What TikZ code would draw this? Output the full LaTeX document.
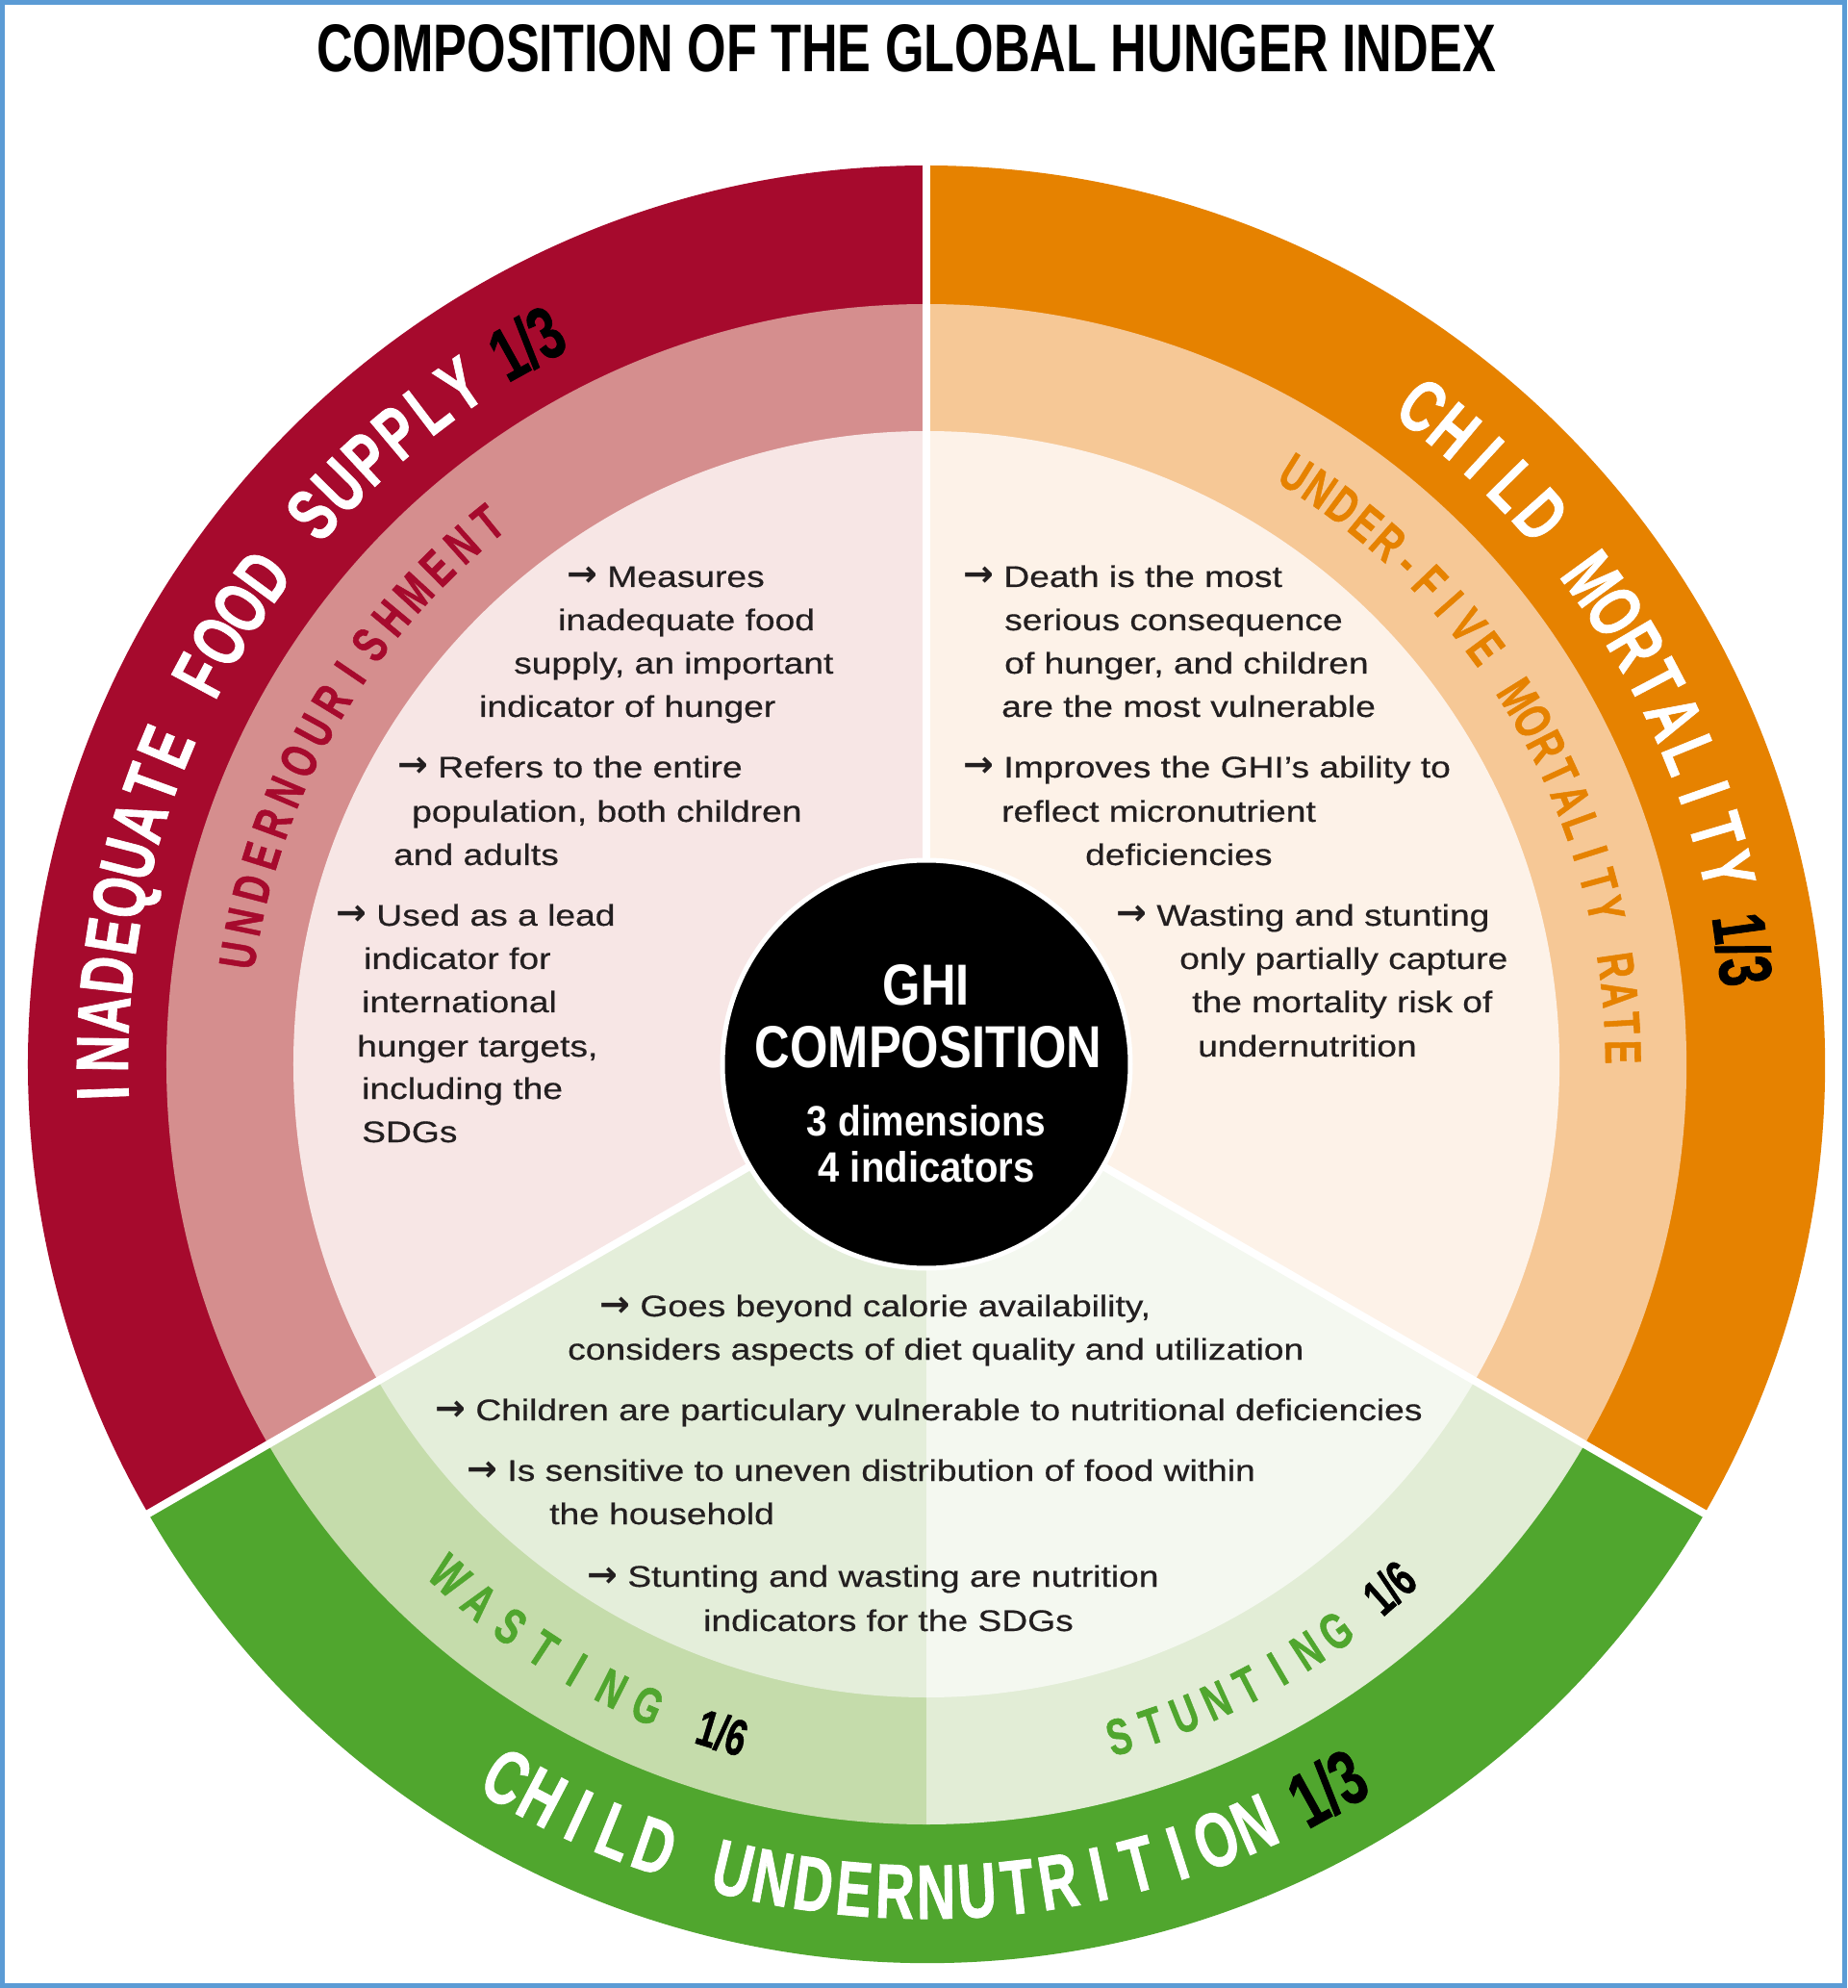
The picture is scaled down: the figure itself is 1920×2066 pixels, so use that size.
\documentclass[tikz,border=0pt]{standalone}
\usepackage{fontspec}
\usepackage{graphicx}
\setmainfont{Liberation Sans}
\newfontfamily\capfont{Liberation Sans}[FakeStretch=0.62]
\newfontfamily\arcfont{Liberation Sans}[FakeBold=1.2]
\newfontfamily\bodyfont{Liberation Sans}[FakeStretch=1.2,FakeBold=0.5]
\newfontfamily\arrfont{DejaVu Sans}
\definecolor{redA}{RGB}{166,10,45}
\definecolor{redB}{RGB}{213,142,142}
\definecolor{redC}{RGB}{247,230,229}
\definecolor{orA}{RGB}{230,130,0}
\definecolor{orB}{RGB}{246,200,150}
\definecolor{orC}{RGB}{253,242,232}
\definecolor{grA}{RGB}{80,166,46}
\definecolor{grBa}{RGB}{197,220,171}
\definecolor{grBb}{RGB}{226,237,214}
\definecolor{grCa}{RGB}{228,238,218}
\definecolor{grCb}{RGB}{244,248,240}
\definecolor{frameblue}{RGB}{91,155,213}
\definecolor{bodytext}{RGB}{35,31,32}
\newcommand\arr{{\arrfont\bfseries\fontsize{38}{31}\selectfont →}\ }
\newcommand\nI{\kern-0.09em I\kern-0.09em}
\newdimen\ctW \newdimen\ctP \newcount\ctN
% #1 radius, #2 start angle, #3 end angle, #4 font and colour, #5 characters
\newcommand\arctext[5]{%
  \global\ctW=0pt \global\ctN=0
  \foreach \ctc in {#5}{\setbox0=\hbox{#4\scalebox{0.7}[1]{\ctc}}\global\advance\ctW by\wd0 \global\advance\ctN by 1 }%
  \pgfmathsetmacro\ctsgn{(#3>#2)?1:-1}%
  \pgfmathsetmacro\cttrk{(abs(#3-#2)*pi/180*#1 - \the\ctW)/(\the\ctN-1)}%
  \global\ctP=0pt
  \foreach \ctc in {#5}{%
    \setbox0=\hbox{#4\scalebox{0.7}[1]{\ctc}}\edef\ctcw{\the\wd0}%
    \pgfmathsetmacro\ctang{#2+\ctsgn*(\the\ctP+\ctcw/2)/(#1)*180/pi}%
    \pgfmathsetmacro\ctrot{\ctang+\ctsgn*90}%
    \node[inner sep=0pt,anchor=base,rotate=\ctrot] at (\ctang:#1pt) {#4\scalebox{0.7}[1]{\ctc}};
    \global\advance\ctP by \ctcw\relax
    \global\advance\ctP by \cttrk pt\relax
  }%
}
\tikzset{
  body/.style={anchor=base west, inner sep=0pt, text=bodytext,
    font=\bodyfont\fontsize{31}{31}\selectfont},
  sep/.style={draw=white, line width=8pt}
}
\begin{document}
\begin{tikzpicture}[x=1pt,y=1pt]
\useasboundingbox (-963,-960) rectangle (957,1106);
\fill[white] (-963,-960) rectangle (957,1106);
\draw[frameblue, line width=5pt] (-960.5,-957.5) rectangle (954.5,1103.5);
% title
\node[anchor=base, inner sep=0pt] (title) at (-21,1031)
  {\resizebox{1225pt}{49pt}{\capfont\bfseries COMPOSITION OF THE GLOBAL HUNGER INDEX}};
% sectors
\def\Ro{934pt}\def\Rm{790pt}\def\Ri{658pt}
\fill[redA] (0,0) -- (90:\Ro) arc[start angle=90,end angle=210,radius=\Ro] -- cycle;
\fill[redB] (0,0) -- (90:\Rm) arc[start angle=90,end angle=210,radius=\Rm] -- cycle;
\fill[redC] (0,0) -- (90:\Ri) arc[start angle=90,end angle=210,radius=\Ri] -- cycle;
\fill[orA] (0,0) -- (-30:\Ro) arc[start angle=-30,end angle=90,radius=\Ro] -- cycle;
\fill[orB] (0,0) -- (-30:\Rm) arc[start angle=-30,end angle=90,radius=\Rm] -- cycle;
\fill[orC] (0,0) -- (-30:\Ri) arc[start angle=-30,end angle=90,radius=\Ri] -- cycle;
\fill[grA] (0,0) -- (210:\Ro) arc[start angle=210,end angle=330,radius=\Ro] -- cycle;
\fill[grBa] (0,0) -- (210:\Rm) arc[start angle=210,end angle=270,radius=\Rm] -- cycle;
\fill[grBb] (0,0) -- (270:\Rm) arc[start angle=270,end angle=330,radius=\Rm] -- cycle;
\fill[grCa] (0,0) -- (210:\Ri) arc[start angle=210,end angle=270,radius=\Ri] -- cycle;
\fill[grCb] (0,0) -- (270:\Ri) arc[start angle=270,end angle=330,radius=\Ri] -- cycle;
\coordinate (o) at (0,0);
\coordinate (s1) at (90:940pt);
\coordinate (s2) at (210:940pt);
\coordinate (s3) at (330:940pt);
\draw[sep] (o) -- (s1);
\draw[sep] (o) -- (s2);
\draw[sep] (o) -- (s3);
% outer ring labels
\arctext{830}{182}{119}{\arcfont\bfseries\fontsize{77}{77}\selectfont\color{white}}
  {\nI,N,A,D,E,Q,U,A,T,E,~,F,O,O,D,~,S,U,P,P,L,Y,~,{\color{black}1/3}}
\arctext{830}{53}{8}{\arcfont\bfseries\fontsize{77}{77}\selectfont\color{white}}
  {C,H,\nI,L,D,~,M,O,R,T,A,L,\nI,T,Y,~,{\color{black}1/3}}
\arctext{888}{239.5}{299}{\arcfont\bfseries\fontsize{80}{80}\selectfont\color{white}}
  {C,H,\nI,L,D,~,U,N,D,E,R,N,U,T,R,\nI,T,\nI,O,N,~,{\color{black}1/3}}
% middle ring labels
\arctext{706}{171}{129}{\arcfont\bfseries\fontsize{53}{53}\selectfont\color{redA}}
  {U,N,D,E,R,N,O,U,R,\nI,S,H,M,E,N,T}
\arctext{706}{58}{1}{\arcfont\bfseries\fontsize{53}{53}\selectfont\color{orA}}
  {U,N,D,E,R,-,F,\nI,V,E,~,M,O,R,T,A,L,\nI,T,Y,~,R,A,T,E}
\arctext{745}{227}{253}{\arcfont\bfseries\fontsize{53}{53}\selectfont\color{grA}}
  {W,A,S,T,\nI,N,G,~,{\color{black}1/6}}
\arctext{745}{286}{311.5}{\arcfont\bfseries\fontsize{53}{53}\selectfont\color{grA}}
  {S,T,U,N,T,\nI,N,G,~,{\color{black}1/6}}
% left sector text
\node[body] (l1) at (-374,496) {\arr Measures};
\node[body] (l2) at (-383,451) {inadequate food};
\node[body] (l3) at (-429,406) {supply, an important};
\node[body] (l4) at (-465,361) {indicator of hunger};
\node[body] (l5) at (-550,298) {\arr Refers to the entire};
\node[body] (l6) at (-535,252) {population, both children};
\node[body] (l7) at (-554,207) {and adults};
\node[body] (l8) at (-614,144) {\arr Used as a lead};
\node[body] (l9) at (-585,99) {indicator for};
\node[body] (l10) at (-587,54) {international};
\node[body] (l11) at (-592,8) {hunger targets,};
\node[body] (l12) at (-587,-36) {including the};
\node[body] (l13) at (-587,-81) {SDGs};
% right sector text
\node[body] (r1) at (38,496) {\arr Death is the most};
\node[body] (r2) at (81,451) {serious consequence};
\node[body] (r3) at (81,406) {of hunger, and children};
\node[body] (r4) at (78,361) {are the most vulnerable};
\node[body] (r5) at (38,298) {\arr Improves the GHI’s ability to};
\node[body] (r6) at (78,252) {reflect micronutrient};
\node[body] (r7) at (165,207) {deficiencies};
\node[body] (r8) at (197,144) {\arr Wasting and stunting};
\node[body] (r9) at (263,99) {only partially capture};
\node[body] (r10) at (276,54) {the mortality risk of};
\node[body] (r11) at (282,8) {undernutrition};
% bottom sector text
\node[body] (b1) at (-340,-262) {\arr Goes beyond calorie availability,};
\node[body] (b2) at (-373,-307) {considers aspects of diet quality and utilization};
\node[body] (b3) at (-511,-370) {\arr Children are particulary vulnerable to nutritional deficiencies};
\node[body] (b4) at (-478,-433) {\arr Is sensitive to uneven distribution of food within};
\node[body] (b5) at (-392,-478) {the household};
\node[body] (b6) at (-353,-543) {\arr Stunting and wasting are nutrition};
\node[body] (b7) at (-232,-589) {indicators for the SDGs};
% centre
\node[circle, fill=black, draw=white, line width=5pt, minimum size=424pt, inner sep=0pt] (ghi) at (o) {};
\node[anchor=base, inner sep=0pt, text=white] (c1) at (0,61) {\resizebox{90pt}{42pt}{\capfont\bfseries GHI}};
\node[anchor=base, inner sep=0pt, text=white] (c2) at (2,-4) {\resizebox{360pt}{43pt}{\capfont\bfseries COMPOSITION}};
\node[anchor=base, inner sep=0pt, text=white] (c3) at (0,-74) {\resizebox{248pt}{32pt}{\capfont\bfseries 3 dimensions}};
\node[anchor=base, inner sep=0pt, text=white] (c4) at (0,-122) {\resizebox{225pt}{32pt}{\capfont\bfseries 4 indicators}};
\end{tikzpicture}
\end{document}
